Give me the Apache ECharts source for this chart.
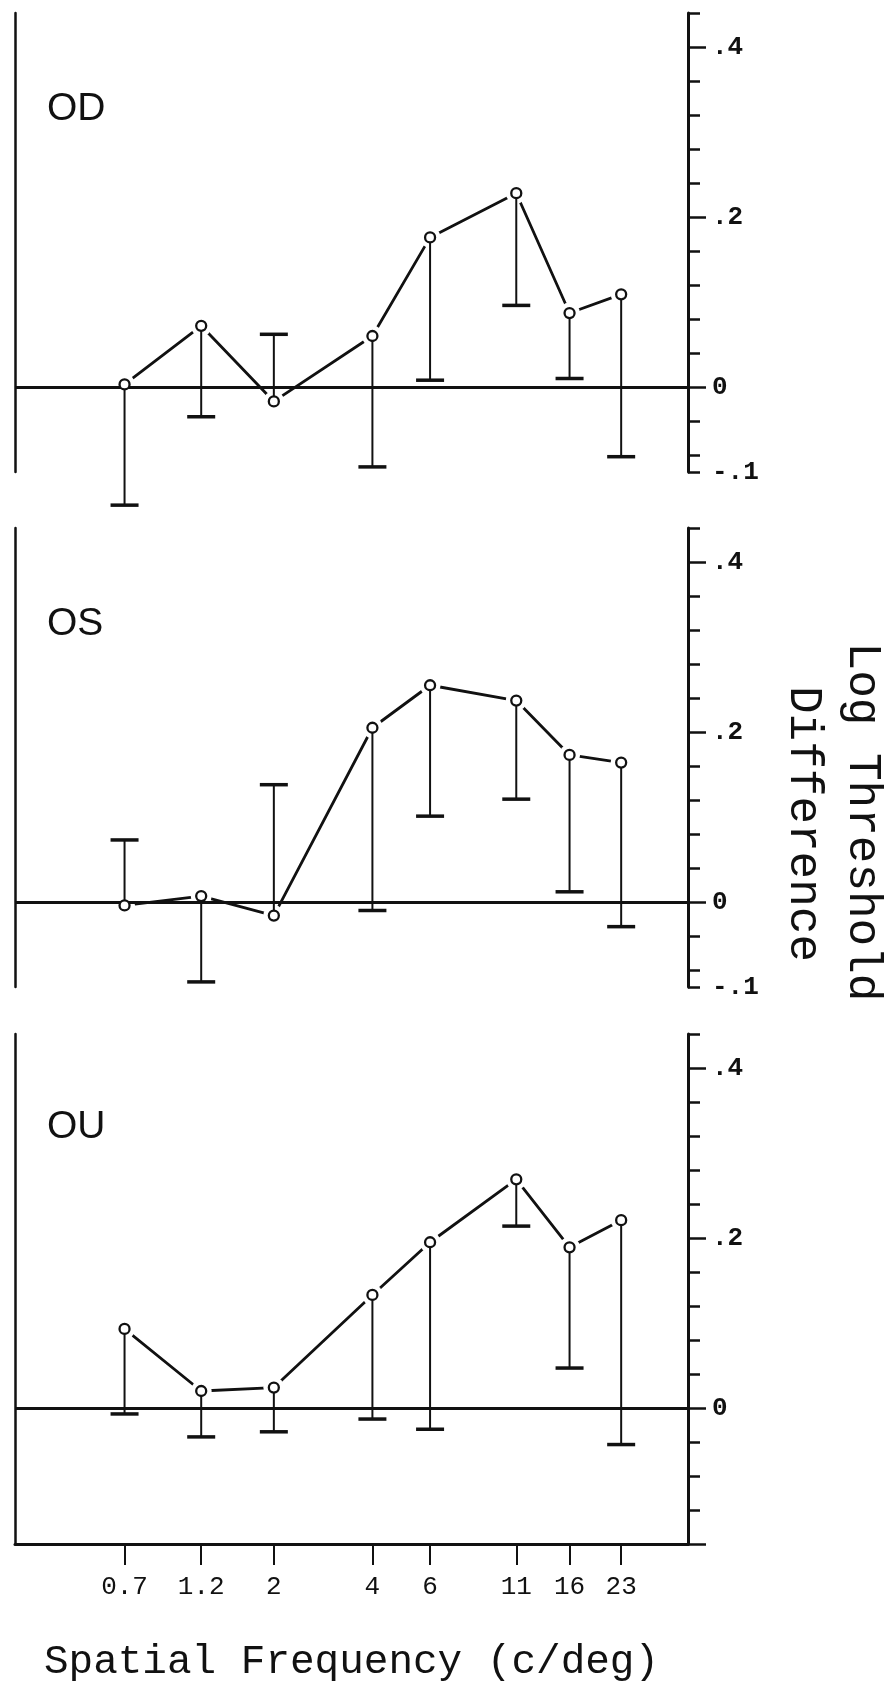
<!DOCTYPE html>
<html>
<head>
<meta charset="utf-8">
<script src="https://cdn.jsdelivr.net/npm/echarts@6/dist/echarts.min.js"></script>
<style>
  html, body { margin: 0; padding: 0; background: #fff; }
  #chart { width: 891px; height: 1692px; }
</style>
</head>
<body>
<div id="chart"></div>
<script>
// spatial frequencies (c/deg)
var freqs = [0.7, 1.2, 2, 4, 6, 11, 16, 23]

// log threshold difference, and the end of each one-sided error bar
var odMean = [0.003, 0.072, -0.017, 0.060, 0.176, 0.228, 0.087, 0.109]
var odBar = [-0.139, -0.035, 0.062, -0.094, 0.008, 0.096, 0.010, -0.082]
var osMean = [-0.004, 0.007, -0.016, 0.205, 0.255, 0.237, 0.173, 0.164]
var osBar = [0.073, -0.094, 0.138, -0.010, 0.101, 0.121, 0.012, -0.029]
var ouMean = [0.093, 0.020, 0.024, 0.133, 0.195, 0.269, 0.189, 0.221]
var ouBar = [-0.007, -0.034, -0.028, -0.013, -0.025, 0.214, 0.047, -0.043]

// right axis ticks and labels
var majorTicks = [0, 0.2, 0.4]
var majorTicksOU = [-0.16, 0, 0.2, 0.4]
var minorTicks = [-0.1, -0.08, -0.04, 0.04, 0.08, 0.12, 0.16, 0.24, 0.28, 0.32, 0.36, 0.44]
var minorTicksOU = [-0.12, -0.08, -0.04, 0.04, 0.08, 0.12, 0.16, 0.24, 0.28, 0.32, 0.36, 0.44]
var yLabelValues = [-0.1, 0, 0.2, 0.4]
var yLabelTexts = ['-.1', '0', '.2', '.4']
var yLabelValuesOU = [0, 0.2, 0.4]

var ink = '#111'
var echart = echarts.init(document.getElementById('chart'))

var panels = [
    { name: 'OD', mean: odMean, bar: odBar, min: -0.1, top: 13, height: 459, ticks: majorTicks, minor: minorTicks, labels: yLabelValues },
    { name: 'OS', mean: osMean, bar: osBar, min: -0.1, top: 528, height: 459, ticks: majorTicks, minor: minorTicks, labels: yLabelValues },
    { name: 'OU', mean: ouMean, bar: ouBar, min: -0.16, top: 1034, height: 510, ticks: majorTicksOU, minor: minorTicksOU, labels: yLabelValuesOU }
]

function yLabel(v) {
    for (var i = 0; i < yLabelValues.length; i++) {
        if (Math.abs(yLabelValues[i] - v) < 1e-9) return yLabelTexts[i]
    }
    return ''
}

function renderBar(params, api) {
    var p = api.coord([api.value(0), api.value(1)])
    var e = api.coord([api.value(0), api.value(2)])
    return {
        type: 'group',
        children: [
            { type: 'line', shape: { x1: p[0], y1: p[1], x2: e[0], y2: e[1] }, style: { stroke: ink, lineWidth: 2 } },
            { type: 'line', shape: { x1: e[0] - 14, y1: e[1], x2: e[0] + 14, y2: e[1] }, style: { stroke: ink, lineWidth: 3.5 } }
        ]
    }
}

var grid = [], xAxis = [], yAxis = [], series = [], graphic = []

panels.forEach(function (p, i) {
    grid.push({ left: 15, width: 673, top: p.top, height: p.height, containLabel: false, outerBoundsMode: 'none' })

    var last = i === panels.length - 1
    xAxis.push({
        type: 'log',
        logBase: 10,
        gridIndex: i,
        min: 0.324,
        max: 36.8,
        show: last,
        axisLine: { show: true, onZero: false, lineStyle: { color: ink, width: 3 } },
        axisTick: { show: true, customValues: freqs, length: 21, lineStyle: { color: ink, width: 2 } },
        axisLabel: {
            show: true,
            customValues: freqs,
            margin: 30,
            color: ink,
            fontFamily: 'Liberation Mono',
            fontSize: 26,
            formatter: function (v) { return String(v) }
        },
        splitLine: { show: false },
        minorTick: { show: false },
        name: last ? 'Spatial Frequency (c/deg)' : '',
        nameLocation: 'middle',
        nameGap: 98,
        nameTextStyle: { color: ink, fontFamily: 'Liberation Mono', fontSize: 41 }
    })

    var common = { gridIndex: i, type: 'value', min: p.min, max: 0.44, splitLine: { show: false } }
    // left frame line
    yAxis.push(Object.assign({}, common, {
        position: 'left',
        axisLine: { show: true, onZero: false, lineStyle: { color: ink, width: 2.5 } },
        axisTick: { show: false },
        axisLabel: { show: false }
    }))
    // right axis with major ticks and labels
    yAxis.push(Object.assign({}, common, {
        position: 'right',
        axisLine: { show: true, onZero: false, lineStyle: { color: ink, width: 3 } },
        axisTick: { show: true, customValues: p.ticks, length: 18, lineStyle: { color: ink, width: 2.5 } },
        axisLabel: {
            show: true,
            customValues: p.labels,
            margin: 24,
            color: ink,
            fontFamily: 'Liberation Mono',
            fontWeight: 'bold',
            fontSize: 26,
            formatter: yLabel
        }
    }))
    // right axis minor ticks
    yAxis.push(Object.assign({}, common, {
        position: 'right',
        axisLine: { show: false },
        axisTick: { show: true, customValues: p.minor, length: 12, lineStyle: { color: ink, width: 2.5 } },
        axisLabel: { show: false }
    }))

    var pts = freqs.map(function (f, k) { return [f, p.mean[k]] })
    var bars = freqs.map(function (f, k) { return [f, p.mean[k], p.bar[k]] })
    var yi = i * 3 + 1

    series.push({
        type: 'line',
        xAxisIndex: i,
        yAxisIndex: yi,
        data: pts,
        showSymbol: false,
        clip: false,
        z: 2,
        lineStyle: { color: ink, width: 2.8 },
        markLine: {
            silent: true,
            z: 4,
            symbol: 'none',
            label: { show: false },
            lineStyle: { color: ink, width: 3, type: 'solid' },
            data: [{ yAxis: 0 }]
        }
    })
    // white halo so the joining line stops short of each circle
    series.push({
        type: 'scatter',
        xAxisIndex: i,
        yAxisIndex: yi,
        data: pts,
        symbolSize: 21,
        silent: true,
        z: 3,
        itemStyle: { color: '#fff', opacity: 1 }
    })
    series.push({
        type: 'custom',
        xAxisIndex: i,
        yAxisIndex: yi,
        data: bars,
        clip: false,
        z: 4,
        encode: { x: 0, y: 1 },
        renderItem: renderBar
    })
    series.push({
        type: 'scatter',
        xAxisIndex: i,
        yAxisIndex: yi,
        data: pts,
        symbol: 'circle',
        symbolSize: 10,
        z: 5,
        itemStyle: { color: '#fff', borderColor: ink, borderWidth: 2.3, opacity: 1 }
    })

    graphic.push({
        type: 'text',
        x: 47,
        y: p.top + (i === 2 ? 93 : 96),
        style: {
            text: p.name,
            fill: ink,
            font: '39px "Liberation Sans"',
            textVerticalAlign: 'middle',
            verticalAlign: 'middle'
        }
    })
})

graphic.push({
    type: 'text',
    x: 862,
    y: 822,
    rotation: -Math.PI / 2,
    style: { text: 'Log Threshold', fill: ink, font: '46px "Liberation Mono"', textAlign: 'center', align: 'center', textVerticalAlign: 'middle', verticalAlign: 'middle' }
})
graphic.push({
    type: 'text',
    x: 803,
    y: 824,
    rotation: -Math.PI / 2,
    style: { text: 'Difference', fill: ink, font: '46px "Liberation Mono"', textAlign: 'center', align: 'center', textVerticalAlign: 'middle', verticalAlign: 'middle' }
})

var option = {
    backgroundColor: '#fff',
    animation: false,
    grid: grid,
    xAxis: xAxis,
    yAxis: yAxis,
    series: series,
    graphic: graphic
}
echart.setOption(option)
</script>
</body>
</html>
